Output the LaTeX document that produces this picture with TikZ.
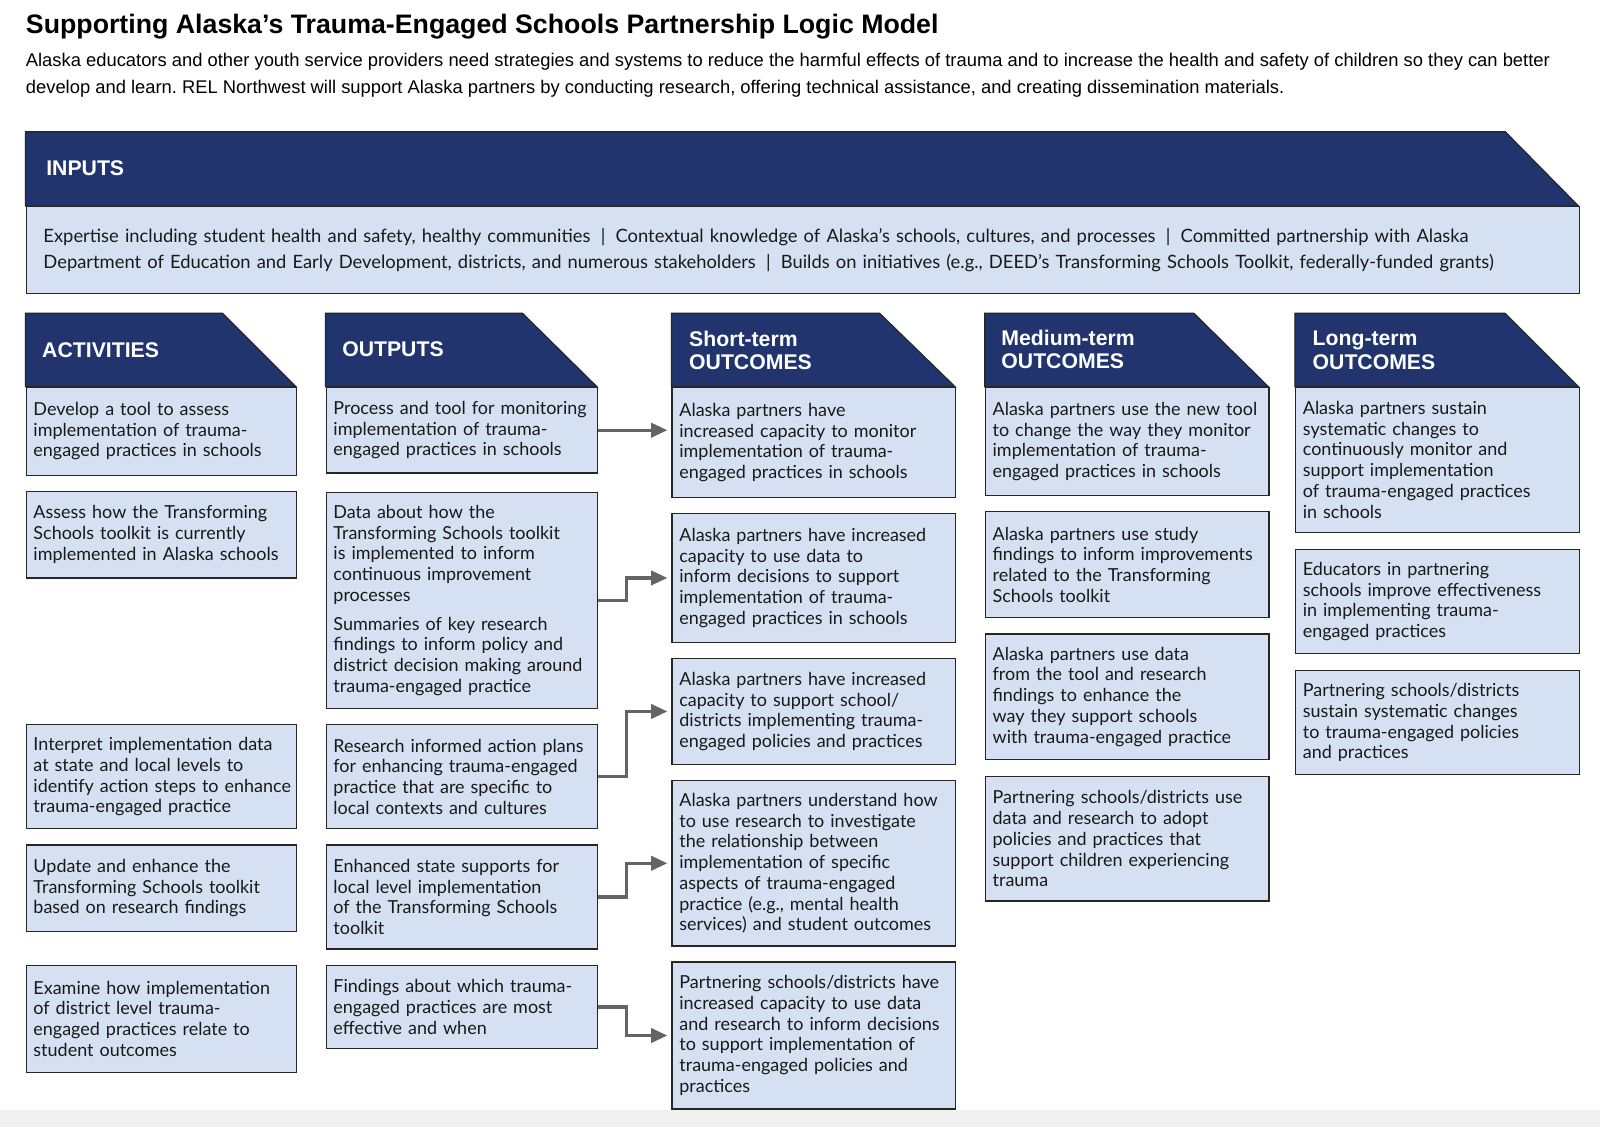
\documentclass[tikz,border=0pt]{standalone}
\usepackage{fontspec}
\setmainfont{Liberation Sans}
\newfontfamily\boxfont{Lato}
\usetikzlibrary{arrows.meta,positioning,calc}
\definecolor{navy}{RGB}{33,52,110}
\definecolor{paleblue}{RGB}{214,224,243}
\definecolor{arrowgray}{RGB}{100,100,100}
\frenchspacing

\begin{document}
\begin{tikzpicture}[x=0.5pt,y=-0.5pt,node distance=7.3pt,
  hdr/.style={fill=navy,draw=black!85,line width=0.6pt},
  hdrtext/.style={text=white,font=\fontsize{10.4}{11.5}\selectfont\bfseries,anchor=west,align=left,inner sep=0pt},
  cell/.style={draw=black!85,fill=paleblue,line width=0.6pt,align=left,inner xsep=3.6pt,inner ysep=0pt,text=black!90,font=\boxfont\fontsize{8.8}{10.15}\selectfont},
  actbox/.style={cell,text width=125.3pt},
  outbox/.style={cell,text width=125.8pt},
  resbox/.style={cell,text width=131.8pt},
  flow/.style={draw=arrowgray,line width=1.6pt,-{Triangle[length=8pt,width=7pt]},shorten >=2pt}]
\useasboundingbox (0,0) rectangle (1568,1104);
\fill[black!6] (0,1088) rectangle (1568,1104);

% title and intro
\node[anchor=base west,inner sep=0pt,font=\fontsize{13.1}{15}\selectfont\bfseries] (title) at (25,33)
  {Supporting Alaska’s Trauma-Engaged Schools Partnership Logic Model};
\node[anchor=north west,inner sep=0pt,align=left,font=\fontsize{9}{13}\selectfont] (intro) at (25,52)
  {Alaska educators and other youth service providers need strategies and systems to reduce the harmful effects of trauma and to increase the health and safety of children so they can better\\
   develop and learn. REL Northwest will support Alaska partners by conducting research, offering technical assistance, and creating dissemination materials.};

% headers
\draw[hdr] (25,129) -- (1475,129) -- (1547,202) -- (25,202) -- cycle;
\foreach \xa/\xs/\xb in {25/218/290, 319/512/585, 658/862/936, 965/1170/1243, 1269/1475/1547}
  \draw[hdr] (\xa,307) -- (\xs,307) -- (\xb,379) -- (\xa,379) -- cycle;
\node[hdrtext] (hIn) at (45,165) {INPUTS};
\node[hdrtext] (hAct) at (41,343) {ACTIVITIES};
\node[hdrtext] (hOut) at (335,342) {OUTPUTS};
\node[hdrtext] (hShort) at (675,343.5) {Short-term\\OUTCOMES};
\node[hdrtext] (hMed) at (981,342.5) {Medium-term\\OUTCOMES};
\node[hdrtext] (hLong) at (1286,343.5) {Long-term\\OUTCOMES};

% inputs
\node[cell,anchor=north west,minimum width=761pt,minimum height=42.5pt,text width=744pt,inner xsep=8.5pt,
  font=\boxfont\fontsize{9}{13}\selectfont] (inp) at (25,202)
  {Expertise including student health and safety, healthy communities\hspace{5pt}|\hspace{5pt}Contextual knowledge of Alaska’s schools, cultures, and processes\hspace{5pt}|\hspace{5pt}Committed partnership with Alaska\\
   Department of Education and Early Development, districts, and numerous stakeholders\hspace{5pt}|\hspace{5pt}Builds on initiatives (e.g., DEED’s Transforming Schools Toolkit, federally-funded grants)};

% outputs
\node[outbox,anchor=north west,minimum height=42pt] (o1) at (319,379)
  {Process and tool for monitoring\\implementation of trauma-\\engaged practices in schools};
\node[outbox,minimum height=106pt,below=8.8pt of o1] (o2)
  {Data about how the\\Transforming Schools toolkit\\is implemented to inform\\continuous improvement\\processes\\[4pt]
   Summaries of key research\\findings to inform policy and\\district decision making around\\trauma-engaged practice};
\node[outbox,minimum height=51pt,below=of o2] (o3)
  {Research informed action plans\\for enhancing trauma-engaged\\practice that are specific to\\local contexts and cultures};
\node[outbox,minimum height=51pt,below=of o3] (o4)
  {Enhanced state supports for\\local level implementation\\of the Transforming Schools\\toolkit};
\node[outbox,minimum height=41pt,below=of o4] (o5)
  {Findings about which trauma-\\engaged practices are most\\effective and when};

% activities
\node[actbox,anchor=north west,minimum height=43pt] (a1) at (25,379)
  {Develop a tool to assess\\implementation of trauma-\\engaged practices in schools};
\node[actbox,minimum height=42.5pt,below=of a1] (a2)
  {Assess how the Transforming\\Schools toolkit is currently\\implemented in Alaska schools};
\node[actbox,anchor=north west,minimum height=51pt] (a3) at (a1.west |- o3.north)
  {Interpret implementation data\\at state and local levels to\\\mbox{identify action steps to enhance}\\trauma-engaged practice};
\node[actbox,anchor=north west,minimum height=42.5pt] (a4) at (a1.west |- o4.north)
  {Update and enhance the\\Transforming Schools toolkit\\based on research findings};
\node[actbox,anchor=north west,minimum height=52.5pt] (a5) at (a1.west |- o5.north)
  {Examine how implementation\\of district level trauma-\\engaged practices relate to\\student outcomes};

% short-term outcomes
\node[resbox,anchor=north west,minimum height=54pt] (s1) at (658,379)
  {Alaska partners have\\increased capacity to monitor\\implementation of trauma-\\engaged practices in schools};
\node[resbox,minimum height=63pt,below=of s1] (s2)
  {Alaska partners have increased\\capacity to use data to\\inform decisions to support\\implementation of trauma-\\engaged practices in schools};
\node[resbox,minimum height=52pt,below=of s2] (s3)
  {Alaska partners have increased\\capacity to support school/\\districts implementing trauma-\\engaged policies and practices};
\node[resbox,minimum height=81pt,below=of s3] (s4)
  {Alaska partners understand how\\to use research to investigate\\the relationship between\\implementation of specific\\aspects of trauma-engaged\\practice (e.g., mental health\\services) and student outcomes};
\node[resbox,minimum height=72pt,below=of s4] (s5)
  {Partnering schools/districts have\\increased capacity to use data\\and research to inform decisions\\to support implementation of\\trauma-engaged policies and\\practices};

% medium-term outcomes
\node[resbox,anchor=north west,minimum height=53pt] (m1) at (965,379)
  {Alaska partners use the new tool\\to change the way they monitor\\implementation of trauma-\\engaged practices in schools};
\node[resbox,minimum height=52pt,below=of m1] (m2)
  {Alaska partners use study\\findings to inform improvements\\related to the Transforming\\Schools toolkit};
\node[resbox,minimum height=61.5pt,below=of m2] (m3)
  {Alaska partners use data\\from the tool and research\\findings to enhance the\\way they support schools\\with trauma-engaged practice};
\node[resbox,minimum height=61pt,below=7.8pt of m3] (m4)
  {Partnering schools/districts use\\data and research to adopt\\policies and practices that\\support children experiencing\\trauma};

% long-term outcomes
\node[resbox,anchor=north west,minimum height=71pt] (l1) at (1269,379)
  {Alaska partners sustain\\systematic changes to\\continuously monitor and\\support implementation\\of trauma-engaged practices\\in schools};
\node[resbox,minimum height=51pt,below=7.8pt of l1] (l2)
  {Educators in partnering\\schools improve effectiveness\\in implementing trauma-\\engaged practices};
\node[resbox,minimum height=51pt,below=7.8pt of l2] (l3)
  {Partnering schools/districts\\sustain systematic changes\\to trauma-engaged policies\\and practices};

% arrows
\draw[flow] (o1.east) -- (o1.east -| s1.west);
\foreach \i in {2,...,5}
  \draw[flow] (o\i.east) -- ++(28,0) |- (s\i.west);
\end{tikzpicture}
\end{document}
